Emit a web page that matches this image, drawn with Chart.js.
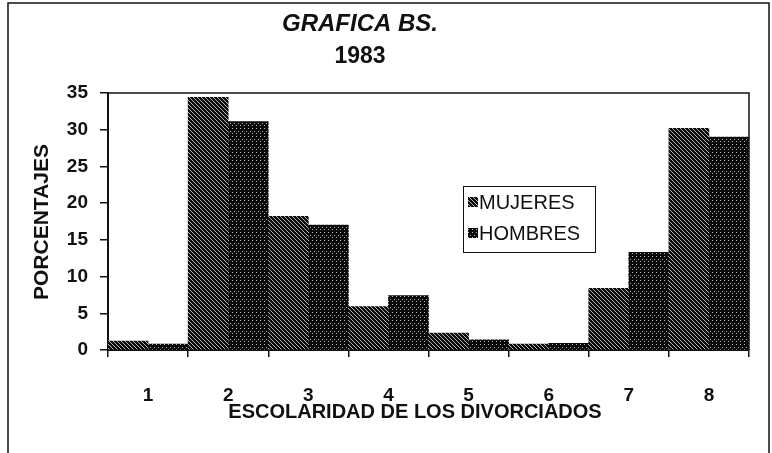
<!DOCTYPE html>
<html>
<head>
<meta charset="utf-8">
<script src="https://cdn.jsdelivr.net/npm/chart.js@4.4.1/dist/chart.umd.min.js"></script>
<style>
  html, body { margin: 0; padding: 0; background: #fff; }
</style>
</head>
<body>
<canvas id="chartBS" width="772" height="453"></canvas>
<script>
// data
const categories = ['1', '2', '3', '4', '5', '6', '7', '8'];
const mujeres = [1.2, 34.4, 18.2, 5.9, 2.3, 0.8, 8.4, 30.2];
const hombres = [0.8, 31.1, 17.0, 7.4, 1.4, 0.9, 13.3, 29.0];
const yTicks = [0, 5, 10, 15, 20, 25, 30, 35];
const seriesNames = ['MUJERES', 'HOMBRES'];

const FONT = "'Liberation Sans', Arial, sans-serif";

// hatch fills that imitate the photocopied print
function makePattern(kind) {
    const c = document.createElement('canvas');
    c.width = 8; c.height = 8;
    const g = c.getContext('2d');
    g.fillStyle = '#0a0a0a';
    g.fillRect(0, 0, 8, 8);
    g.fillStyle = '#b5b5b5';
    if (kind === 'diag') {
        for (let i = 0; i < 8; i++) {
            g.fillRect(i, i, 1, 1);
            g.fillRect((i + 4) % 8, i, 1, 1);
        }
    } else {
        g.fillRect(0, 0, 1, 1);
        g.fillRect(4, 0, 1, 1);
        g.fillRect(2, 3, 1, 1);
        g.fillRect(6, 3, 1, 1);
        g.fillRect(0, 5, 1, 1);
        g.fillRect(4, 5, 1, 1);
    }
    return g.createPattern(c, 'repeat');
}
const fillM = makePattern('diag');
const fillH = makePattern('dots');

// titles, frames and the boxed legend
const decorations = {
    id: 'decorations',
    afterDraw(chart) {
        const ctx = chart.ctx;
        const a = chart.chartArea;
        ctx.save();
        ctx.strokeStyle = '#111';
        // outer page frame
        ctx.lineWidth = 1.5;
        ctx.beginPath();
        ctx.moveTo(8, 453);
        ctx.lineTo(8, 3);
        ctx.lineTo(769, 3);
        ctx.lineTo(769, 453);
        ctx.stroke();
        // plot frame (top and right)
        ctx.beginPath();
        ctx.moveTo(a.left, a.top);
        ctx.lineTo(a.right, a.top);
        ctx.lineTo(a.right, a.bottom);
        ctx.stroke();

        ctx.fillStyle = '#111';
        ctx.textAlign = 'center';
        ctx.textBaseline = 'alphabetic';
        // chart title
        ctx.font = 'italic bold 24px ' + FONT;
        ctx.fillText('GRAFICA BS.', 360, 31);
        ctx.font = 'bold 23px ' + FONT;
        ctx.fillText('1983', 360, 63);

        // axis titles
        ctx.font = 'bold 20px ' + FONT;
        ctx.fillText('ESCOLARIDAD DE LOS DIVORCIADOS', 415, 418);
        ctx.save();
        ctx.translate(48, 222);
        ctx.rotate(-Math.PI / 2);
        ctx.font = 'bold 21px ' + FONT;
        ctx.fillText('PORCENTAJES', 0, 0);
        ctx.restore();

        // legend
        ctx.lineWidth = 1;
        ctx.strokeRect(463.5, 186.5, 132, 66);
        const fills = [fillM, fillH];
        const rows = [202, 233];
        ctx.font = '20px ' + FONT;
        ctx.textAlign = 'left';
        ctx.textBaseline = 'middle';
        for (let i = 0; i < 2; i++) {
            ctx.fillStyle = fills[i];
            ctx.fillRect(468, rows[i] - 5, 10, 10);
            ctx.fillStyle = '#111';
            ctx.fillText(seriesNames[i], 479, rows[i] + 1);
        }
        ctx.restore();
    }
};

const ctx = document.getElementById('chartBS').getContext('2d');
const chartBS = new Chart(ctx, {
    type: 'bar',
    data: {
        labels: categories,
        datasets: [{
            label: seriesNames[0],
            data: mujeres,
            backgroundColor: fillM,
            borderWidth: 0
        }, {
            label: seriesNames[1],
            data: hombres,
            backgroundColor: fillH,
            borderWidth: 0
        }]
    },
    plugins: [decorations],
    options: {
        responsive: false,
        animation: false,
        devicePixelRatio: 1,
        layout: {
            padding: { top: 93, right: 23, bottom: 0, left: 0 }
        },
        datasets: {
            bar: { barPercentage: 1, categoryPercentage: 1 }
        },
        plugins: {
            legend: { display: false },
            tooltip: { enabled: false }
        },
        scales: {
            x: {
                grid: {
                    offset: true,
                    drawOnChartArea: false,
                    color: '#111',
                    lineWidth: 1.5,
                    tickLength: 7
                },
                border: { color: '#111', width: 2 },
                ticks: {
                    color: '#111',
                    padding: 27,
                    font: { family: FONT, size: 19, weight: 'bold' }
                },
                afterFit(scale) { scale.height = 103; }
            },
            y: {
                min: 0,
                max: 35,
                afterBuildTicks(scale) {
                    scale.ticks = yTicks.map(v => ({ value: v }));
                },
                grid: {
                    drawOnChartArea: false,
                    color: '#111',
                    lineWidth: 1.5,
                    tickLength: 8
                },
                border: { color: '#111', width: 2 },
                ticks: {
                    color: '#111',
                    padding: 12,
                    font: { family: FONT, size: 19, weight: 'bold' }
                },
                afterFit(scale) { scale.width = 108; }
            }
        }
    }
});
</script>
</body>
</html>
